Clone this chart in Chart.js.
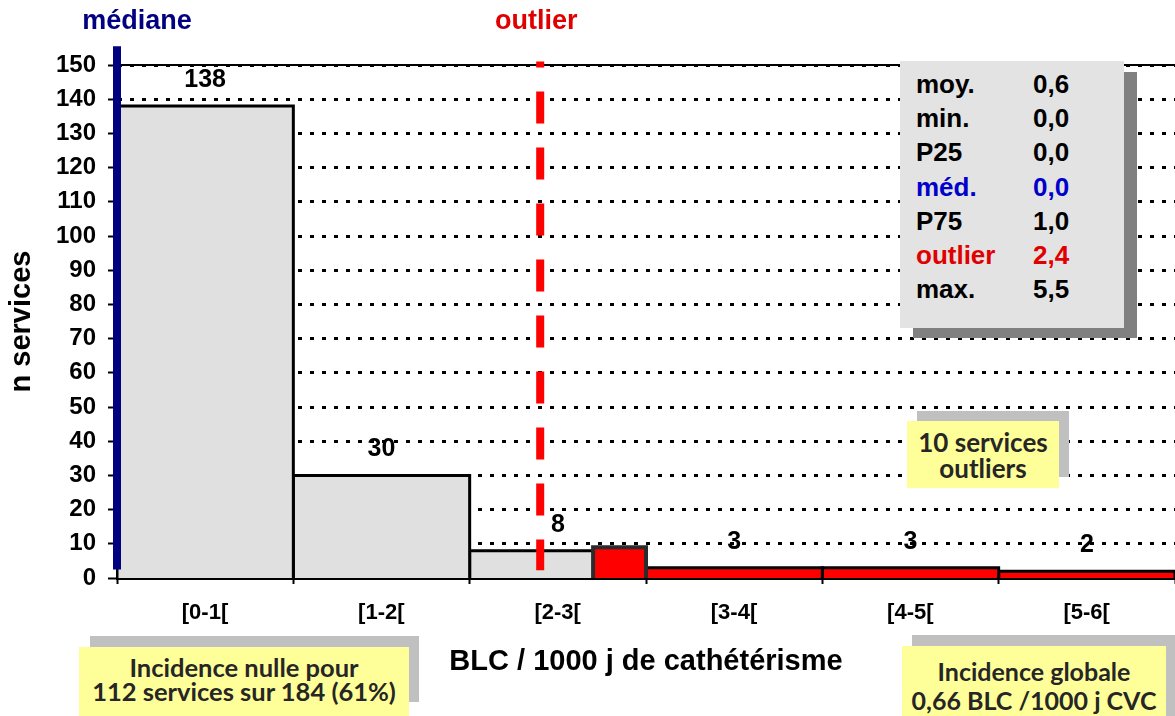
<!DOCTYPE html>
<html>
<head>
<meta charset="utf-8">
<script src="https://cdn.jsdelivr.net/npm/chart.js@4/dist/chart.umd.min.js"></script>
<style>
body { margin: 0; background: #fff; }
#wrap { position: relative; width: 1175px; height: 716px; overflow: hidden; }
#chart { position: absolute; left: 0; top: 0; }
.box { position: absolute; box-sizing: border-box; }
.shade { background: #c0c0c0; }
.yellow { background: #ffff99; color: #262626; font-family: Lato, 'Open Sans', sans-serif; font-weight: bold; text-align: center; white-space: nowrap; }
#stats { font-family: 'Liberation Sans', Arial, sans-serif; font-weight: bold; font-size: 26px; background: #e3e3e3; padding: 6px 0 0 16px; }
#stats .row { height: 34.2px; line-height: 34.2px; white-space: nowrap; }
#stats .k { display: inline-block; width: 117px; }
</style>
</head>
<body>
<div id="wrap">
  <canvas id="chart" width="1175" height="716"></canvas>

  <div class="box" style="left:913px;top:72px;width:224px;height:266px;background:#808080"></div>
  <div class="box" id="stats" style="left:900px;top:61px;width:224px;height:267px"></div>

  <div class="box shade" style="left:917px;top:411px;width:152px;height:66px"></div>
  <div class="box yellow" style="left:907px;top:421px;width:152px;height:67px;font-size:26px;line-height:26px;padding-top:8px">10 services<br>outliers</div>

  <div class="box shade" style="left:90px;top:636px;width:329px;height:66px"></div>
  <div class="box yellow" style="left:79px;top:647px;width:330px;height:69px;font-size:25.5px;line-height:24px;padding-top:8px">Incidence nulle pour<br>112 services sur 184 (61%)</div>

  <div class="box shade" style="left:912px;top:635px;width:270px;height:90px"></div>
  <div class="box yellow" style="left:902px;top:646px;width:264px;height:80px;font-size:25px;line-height:29px;padding-top:11px">Incidence globale<br>0,66 BLC /1000 j CVC</div>
</div>

<script>
// Histogram bins (BLC / 1000 j de cathétérisme)
const binStarts = [0, 1, 2, 3, 4, 5]
const binCounts = [138, 30, 8, 3, 3, 2]
const binLabels = ['[0-1[', '[1-2[', '[2-3[', '[3-4[', '[4-5[', '[5-6[']
const outlierFrom = 3          // bins starting here are outliers (red)

// red part of the [2-3[ bin, above the outlier threshold
const splitRange = [2.7, 3]
const splitCount = 9

// reference lines
const medianX = 0
const medianSpan = [2.5, 155.5]
const outlierX = 2.4
const outlierSpan = [2.3, 151]

// y axis
const yMax = 150
const yStep = 10

// summary box
const statNames = ['moy.', 'min.', 'P25', 'méd.', 'P75', 'outlier', 'max.']
const statValues = ['0,6', '0,0', '0,0', '0,0', '1,0', '2,4', '5,5']

// Fill the stats box
const statsBox = document.getElementById('stats')
statNames.forEach((name, i) => {
	let color = '#000'
	if (name === 'méd.') color = '#0000cc'
	if (name === 'outlier') color = '#e00000'
	const row = document.createElement('div')
	row.className = 'row'
	row.style.color = color
	row.innerHTML = `<span class="k">${name}</span><span>${statValues[i]}</span>`
	statsBox.appendChild(row)
})

Chart.defaults.font.family = "'Liberation Sans', Arial, sans-serif"
Chart.defaults.color = '#000'

function rectPoints(x0, x1, h) {
	return [{x: x0, y: 0}, {x: x0, y: h}, {x: x1, y: h}, {x: x1, y: 0}]
}
function vline(x, span) {
	return [{x: x, y: span[1]}, {x: x, y: span[0]}]
}

var datasets = []
binStarts.forEach((start, i) => {
	const isOut = start >= outlierFrom
	datasets.push({
		data: rectPoints(start, start + 1, binCounts[i]),
		backgroundColor: isOut ? '#ff0000' : '#e0e0e0',
		borderColor: '#000',
		borderWidth: 3,
		fill: 'origin',
		order: 3
	})
})
datasets.push({
	data: rectPoints(splitRange[0], splitRange[1], splitCount),
	backgroundColor: '#ff0000',
	borderColor: '#2b2b2b',
	borderWidth: 4,
	fill: 'origin',
	order: 2
})
datasets.push({
	data: vline(medianX, medianSpan),
	borderColor: '#000080',
	borderWidth: 8,
	fill: false,
	clip: false,
	order: 1
})
datasets.push({
	data: vline(outlierX, outlierSpan),
	borderColor: '#ff0000',
	borderWidth: 8,
	borderDash: [32, 24],
	borderDashOffset: 26,
	fill: false,
	clip: false,
	order: 0
})

// Extra drawing: solid top line, value labels, header labels
const annotate = {
	id: 'annotate',
	beforeDatasetsDraw(chart) {
		const {ctx, chartArea, scales} = chart
		const y = scales.y.getPixelForValue(yMax)
		ctx.save()
		ctx.strokeStyle = '#000'
		ctx.lineWidth = 2
		ctx.beginPath()
		ctx.moveTo(chartArea.left, y)
		ctx.lineTo(chartArea.right, y)
		ctx.stroke()
		ctx.restore()
	},
	afterDatasetsDraw(chart) {
		const {ctx, scales} = chart
		ctx.save()
		ctx.textAlign = 'center'
		ctx.textBaseline = 'middle'
		ctx.fillStyle = '#000'
		ctx.font = "bold 25px 'Liberation Sans', Arial, sans-serif"
		binStarts.forEach((start, i) => {
			const x = scales.x.getPixelForValue(start + 0.5)
			const y = scales.y.getPixelForValue(binCounts[i]) - 26
			ctx.fillText(String(binCounts[i]), x, y)
		})
		ctx.font = "bold 27px 'Liberation Sans', Arial, sans-serif"
		ctx.fillStyle = '#000080'
		ctx.fillText('médiane', scales.x.getPixelForValue(medianX) + 20, 22)
		ctx.fillStyle = '#e00000'
		ctx.fillText('outlier', scales.x.getPixelForValue(outlierX) - 4, 22)
		ctx.restore()
	}
}

new Chart(document.getElementById('chart'), {
	type: 'line',
	data: { datasets: datasets },
	options: {
		responsive: false,
		animation: false,
		events: [],
		layout: { padding: { top: 65, left: 0, right: 0, bottom: 0 } },
		elements: {
			point: { radius: 0 },
			line: { tension: 0, borderJoinStyle: 'miter', borderCapStyle: 'butt' }
		},
		plugins: { legend: { display: false }, tooltip: { enabled: false } },
		scales: {
			x: {
				type: 'linear',
				min: binStarts[0],
				max: binStarts[binStarts.length - 1] + 1,
				afterFit: (s) => { s.height = 138; s.paddingLeft = 0; s.paddingRight = 0 },
				ticks: {
					stepSize: 1,
					autoSkip: false,
					maxRotation: 0,
					labelOffset: 88,
					padding: 16,
					font: { size: 22, weight: 'bold' },
					callback: (v) => binLabels[binStarts.indexOf(v)] || ''
				},
				grid: { drawOnChartArea: false, tickLength: 6, tickWidth: 2, tickColor: '#000' },
				border: { color: '#000', width: 3 },
				title: {
					display: true,
					text: 'BLC / 1000 j de cathétérisme',
					font: { size: 29, weight: 'bold' },
					padding: { top: 0, bottom: 37 }
				}
			},
			y: {
				min: 0,
				max: yMax,
				afterFit: (s) => { s.width = 117; s.paddingTop = 0; s.paddingBottom = 0 },
				ticks: { stepSize: yStep, padding: 12, font: { size: 24, weight: 'bold' } },
				grid: { color: '#000', lineWidth: 3, tickLength: 9, tickWidth: 2, tickColor: '#000', tickBorderDash: [] },
				border: { color: '#000', width: 2, dash: [4, 8] },
				title: {
					display: true,
					text: 'n services',
					font: { size: 29, weight: 'bold' },
					padding: { top: 5, bottom: 0 }
				}
			}
		}
	},
	plugins: [annotate]
})
</script>
</body>
</html>
